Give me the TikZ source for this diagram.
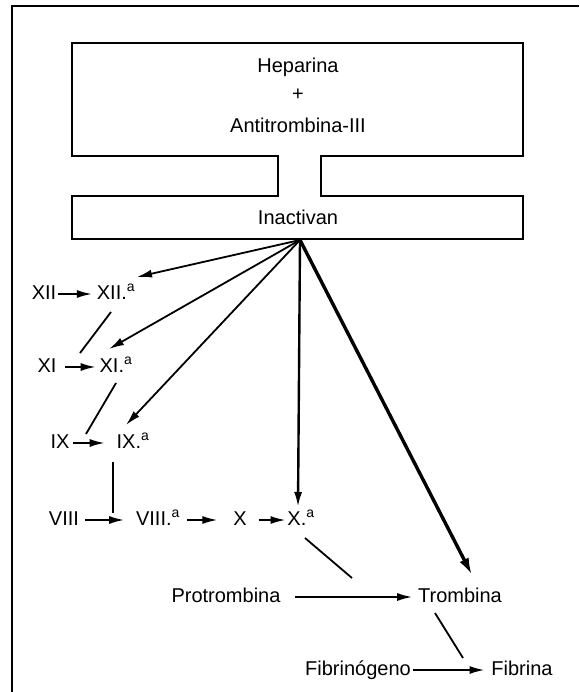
\documentclass[tikz,border=0pt]{standalone}
\usepackage{fontspec}
\setmainfont{Liberation Sans}
\usetikzlibrary{arrows.meta,calc}

\begin{document}
\begin{tikzpicture}[x=1pt, y=-1pt, line width=1.8pt,
  every node/.style={font=\fontsize{20}{24}\selectfont, inner sep=0pt, text height=15pt, text depth=4pt},
  arr/.style={-{Latex[length=15pt,width=8pt]}},
  heavy/.style={-{Latex[length=17pt,width=10pt]}, line width=3.4pt}]
  \useasboundingbox (0,0) rectangle (579,692);
  % frame
  \draw[line width=2.4pt] (12,692) -- (12,6) -- (579,6);
  % heparina box with neck
  \draw (72,43) -- (523,43) -- (523,156) -- (321,156) -- (321,196) -- (523,196)
    -- (523,239) -- (72,239) -- (72,196) -- (278,196) -- (278,156) -- (72,156) -- cycle;
  \node (hep) at (298,67) {Heparina};
  \node (plus) at (298,95) {+};
  \node (at3) at (298,127) {Antitrombina-III};
  \node (inact) at (298,219) {Inactivan};
  \coordinate (apex) at (300,240);
  % factors
  \node (XII) at (44,294) {XII};
  \node (XIIa) at (116,294) {XII.\textsuperscript{a}};
  \node (XI) at (47,367) {XI};
  \node (XIa) at (116,367) {XI.\textsuperscript{a}};
  \node (IX) at (60,443) {IX};
  \node (IXa) at (133,443) {IX.\textsuperscript{a}};
  \node (VIII) at (64,520) {VIII};
  \node (VIIIa) at (158,520) {VIII.\textsuperscript{a}};
  \node (X) at (240,520) {X};
  \node (Xa) at (301,520) {X.\textsuperscript{a}};
  \node (prot) at (226,597) {Protrombina};
  \node (trom) at (460,597) {Trombina};
  \node (fibg) at (358,670) {Fibrinógeno};
  \node (fibrina) at (522,670) {Fibrina};
  % activations
  \draw[arr, shorten <=1pt, shorten >=4pt] (XII) -- (XIIa);
  \draw[arr, shorten <=8pt, shorten >=3pt] (XI) -- (XIa);
  \draw[arr, shorten <=3pt, shorten >=11pt] (IX) -- (IXa);
  \draw[arr, shorten <=5pt, shorten >=11pt] (VIII) -- (VIIIa);
  \draw[arr, shorten <=6pt, shorten >=15pt] (VIIIa) -- (X);
  \draw[arr, shorten <=11pt, shorten >=1pt] (X) -- (Xa);
  \draw[arr, shorten <=14pt, shorten >=5pt] (prot) -- (trom);
  \draw[arr, shorten <=1pt, shorten >=6pt] (fibg) -- (fibrina);
  % cascade links
  \draw ($(XIIa)+(-5,18)$) -- ($(XI)+(33,-14)$);
  \draw ($(XIa)+(0,16)$) -- ($(IX)+(26,-9)$);
  \draw ($(IXa)+(-20,19)$) -- ($(VIIIa)+(-45,-7)$);
  \draw ($(Xa)+(4,18)$) -- ($(trom)+(-108,-19)$);
  \draw ($(trom)+(-25,16)$) -- ($(fibrina)+(-59,-12)$);
  % inactivation
  \draw[arr] (apex) -- ($(XIIa)+(21,-17)$);
  \draw[arr] (apex) -- ($(XIa)+(-7,-18)$);
  \draw[arr] (apex) -- ($(IXa)+(-7,-18)$);
  \draw[arr, line width=2.4pt] (apex) -- ($(Xa)+(-3,-13)$);
  \draw[heavy] (apex) -- ($(trom)+(12,-22)$);
\end{tikzpicture}
\end{document}
